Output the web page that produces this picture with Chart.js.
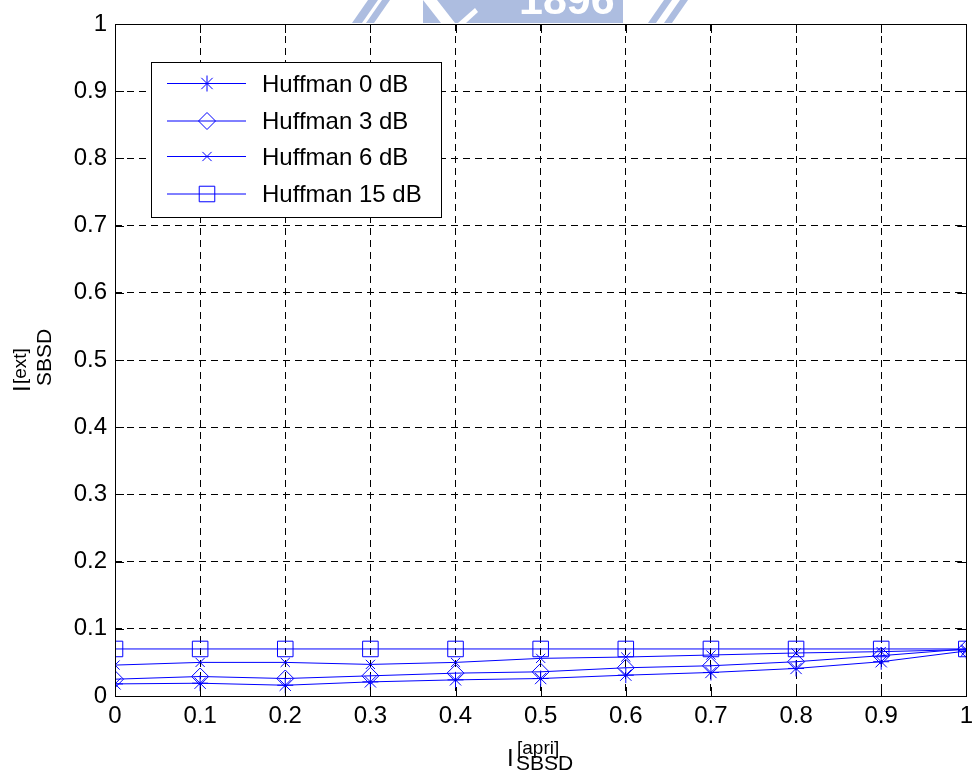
<!DOCTYPE html>
<html>
<head>
<meta charset="utf-8">
<script src="https://cdn.jsdelivr.net/npm/chart.js@4/dist/chart.umd.min.js"></script>
<style>
  html, body { margin: 0; padding: 0; background: #fff; }
  #wrap { width: 979px; height: 782px; }
</style>
</head>
<body>
<div id="wrap"><canvas id="grafico" width="979" height="782"></canvas></div>
<script>
// valores
const xVals = [0, 0.1, 0.2, 0.3, 0.4, 0.5, 0.6, 0.7, 0.8, 0.9, 1];
const huff0 = [0.018, 0.019, 0.016, 0.021, 0.024, 0.026, 0.031, 0.035, 0.041, 0.051, 0.067];
const huff3 = [0.025, 0.029, 0.026, 0.030, 0.034, 0.036, 0.042, 0.045, 0.051, 0.060, 0.070];
const huff6 = [0.046, 0.050, 0.050, 0.047, 0.050, 0.056, 0.058, 0.061, 0.064, 0.066, 0.069];
const huff15 = [0.070, 0.070, 0.070, 0.070, 0.070, 0.070, 0.070, 0.070, 0.070, 0.070, 0.070];
const nomes = ["Huffman 0 dB", "Huffman 3 dB", "Huffman 6 dB", "Huffman 15 dB"];
const xTicks = [0, 0.1, 0.2, 0.3, 0.4, 0.5, 0.6, 0.7, 0.8, 0.9, 1];
const yTicks = [0, 0.1, 0.2, 0.3, 0.4, 0.5, 0.6, 0.7, 0.8, 0.9, 1];

const FONTE = "'Liberation Sans', Arial, Helvetica, sans-serif";
const AZUL = "#0000ff";

const estilos = [
  { pointStyle: "star", radius: 8 },
  { pointStyle: "rectRot", radius: 8.5 },
  { pointStyle: "crossRot", radius: 6.5 },
  { pointStyle: "rect", radius: 11 }
];

function serie(vals, i) {
  return {
    label: nomes[i],
    data: xVals.map((x, k) => ({ x: x, y: vals[k] })),
    borderColor: AZUL,
    borderWidth: 1,
    backgroundColor: "transparent",
    pointStyle: estilos[i].pointStyle,
    pointRadius: estilos[i].radius,
    pointHoverRadius: estilos[i].radius,
    pointBorderColor: AZUL,
    pointBackgroundColor: "transparent",
    pointBorderWidth: 1,
    tension: 0,
    fill: false
  };
}

function rotulo(v) {
  return String(+Number(v).toFixed(1));
}

// moldura, ticks internos, legenda, titulos dos eixos e marca d'agua
const extras = {
  id: "extras",
  afterDraw(chart) {
    const ctx = chart.ctx;
    const a = chart.chartArea;
    const sx = chart.scales.x, sy = chart.scales.y;
    ctx.save();

    // marca d'agua no topo
    ctx.fillStyle = "#adbde0";
    ctx.beginPath();
    ctx.moveTo(352, 23); ctx.lineTo(368, 0); ctx.lineTo(378, 0); ctx.lineTo(362, 23); ctx.closePath(); ctx.fill();
    ctx.beginPath();
    ctx.moveTo(366, 23); ctx.lineTo(382, 0); ctx.lineTo(390, 0); ctx.lineTo(374, 23); ctx.closePath(); ctx.fill();
    ctx.fillRect(423, 0, 200, 23);
    ctx.fillStyle = "#ffffff";
    ctx.beginPath();
    ctx.moveTo(423, 0); ctx.lineTo(437, 0); ctx.lineTo(455, 23); ctx.lineTo(441, 23); ctx.closePath(); ctx.fill();
    ctx.beginPath();
    ctx.moveTo(458, 23); ctx.lineTo(475, 8); ctx.lineTo(478, 12); ctx.lineTo(466, 23); ctx.closePath(); ctx.fill();
    ctx.font = "bold 43px " + FONTE;
    ctx.textAlign = "left";
    ctx.textBaseline = "alphabetic";
    ctx.fillText("1896", 519, 14);
    ctx.fillStyle = "#adbde0";
    ctx.beginPath();
    ctx.moveTo(648, 23); ctx.lineTo(664, 0); ctx.lineTo(672, 0); ctx.lineTo(656, 23); ctx.closePath(); ctx.fill();
    ctx.beginPath();
    ctx.moveTo(664, 23); ctx.lineTo(680, 0); ctx.lineTo(688, 0); ctx.lineTo(672, 23); ctx.closePath(); ctx.fill();

    // moldura dos eixos
    ctx.strokeStyle = "#000";
    ctx.lineWidth = 1;
    ctx.strokeRect(Math.round(a.left) + 0.5, Math.round(a.top) + 0.5,
      Math.round(a.right - a.left), Math.round(a.bottom - a.top));

    // ticks para dentro
    const tl = 9;
    ctx.beginPath();
    xTicks.forEach(v => {
      const px = Math.round(sx.getPixelForValue(v)) + 0.5;
      ctx.moveTo(px, a.bottom); ctx.lineTo(px, a.bottom - tl);
      ctx.moveTo(px, a.top); ctx.lineTo(px, a.top + tl);
    });
    yTicks.forEach(v => {
      const py = Math.round(sy.getPixelForValue(v)) + 0.5;
      ctx.moveTo(a.left, py); ctx.lineTo(a.left + tl, py);
      ctx.moveTo(a.right, py); ctx.lineTo(a.right - tl, py);
    });
    ctx.stroke();

    // legenda
    const lx = 151, ly = 62, lw = 290, lh = 155;
    ctx.fillStyle = "#fff";
    ctx.fillRect(lx, ly, lw, lh);
    ctx.strokeRect(lx + 0.5, ly + 0.5, lw, lh);
    const linhasY = [83.5, 121, 156.5, 194];
    chart.data.datasets.forEach((ds, i) => {
      const y = linhasY[i];
      ctx.save();
      ctx.strokeStyle = AZUL;
      ctx.lineWidth = 1;
      ctx.beginPath();
      ctx.moveTo(167, y); ctx.lineTo(246, y);
      ctx.stroke();
      ctx.fillStyle = "rgba(0,0,0,0)";
      Chart.helpers.drawPoint(ctx, {
        pointStyle: ds.pointStyle, rotation: 0,
        radius: ds.pointRadius, borderWidth: 1
      }, 207, y);
      ctx.restore();
      ctx.fillStyle = "#000";
      ctx.font = "24px " + FONTE;
      ctx.textAlign = "left";
      ctx.textBaseline = "middle";
      ctx.fillText(ds.label, 262, Math.round(y) + 1);
    });

    // titulo do eixo x: I^[apri]_SBSD
    ctx.fillStyle = "#000";
    ctx.textAlign = "left";
    ctx.textBaseline = "alphabetic";
    ctx.font = "24px " + FONTE;
    ctx.fillText("I", 507, 766);
    ctx.font = "19px " + FONTE;
    ctx.fillText("[apri]", 517, 754);
    ctx.font = "21px " + FONTE;
    ctx.fillText("SBSD", 516, 770);

    // titulo do eixo y: I^[ext]_SBSD
    ctx.save();
    ctx.rotate(-Math.PI / 2);
    ctx.font = "24px " + FONTE;
    ctx.fillText("I", -392, 30);
    ctx.font = "19px " + FONTE;
    ctx.fillText("[ext]", -384, 26);
    ctx.font = "21px " + FONTE;
    ctx.fillText("SBSD", -386, 51);
    ctx.restore();

    ctx.restore();
  }
};

new Chart(document.getElementById("grafico").getContext("2d"), {
  type: "line",
  data: { datasets: [serie(huff0, 0), serie(huff3, 1), serie(huff6, 2), serie(huff15, 3)] },
  options: {
    responsive: false,
    animation: false,
    layout: { padding: { left: 0, top: 24, right: 6, bottom: 0 } },
    plugins: { legend: { display: false }, tooltip: { enabled: false } },
    scales: {
      x: {
        type: "linear", min: 0, max: 1,
        afterFit: s => { s.height = 86; },
        afterBuildTicks: s => { s.ticks = xTicks.map(v => ({ value: v })); },
        ticks: { color: "#000", font: { family: FONTE, size: 24 }, padding: 6, maxRotation: 0, callback: rotulo },
        grid: { color: "#000", lineWidth: 1, drawTicks: false },
        border: { display: false, dash: [7, 5] }
      },
      y: {
        type: "linear", min: 0, max: 1,
        afterFit: s => { s.width = 115; },
        afterBuildTicks: s => { s.ticks = yTicks.map(v => ({ value: v })); },
        ticks: { color: "#000", font: { family: FONTE, size: 24 }, padding: 8, callback: rotulo },
        grid: { color: "#000", lineWidth: 1, drawTicks: false },
        border: { display: false, dash: [7, 5] }
      }
    }
  },
  plugins: [extras]
});
</script>
</body>
</html>
